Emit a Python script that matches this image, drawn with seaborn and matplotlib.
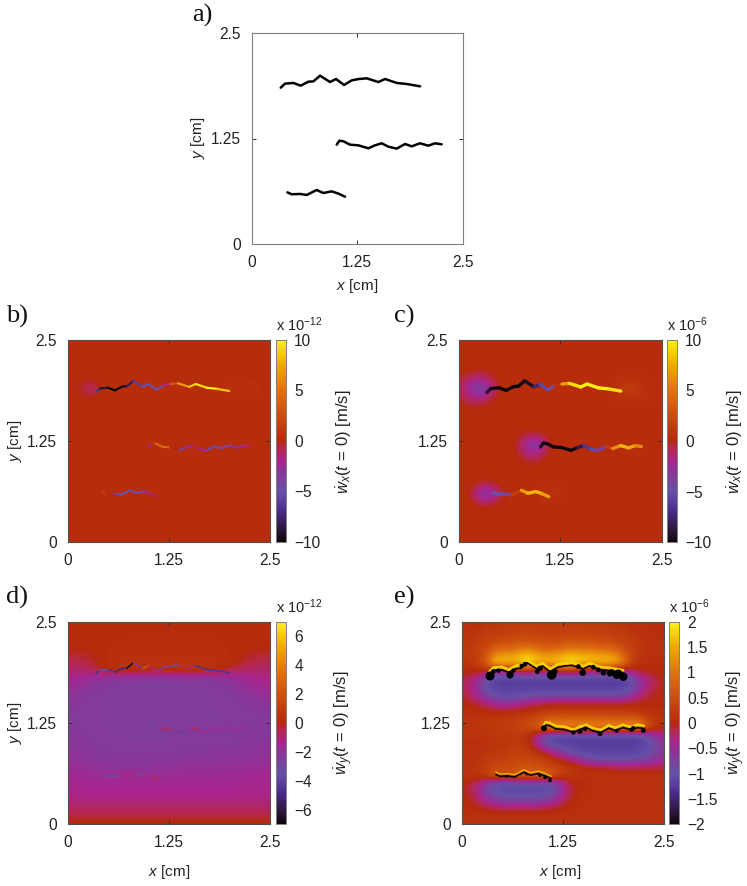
import numpy as np
import seaborn as sns
import matplotlib
matplotlib.use('Agg')
import matplotlib.pyplot as plt
from matplotlib.collections import LineCollection
from matplotlib.colors import LinearSegmentedColormap, Normalize

# Crack paths in cm
top_x = [.344, .395, .494, .581, .671, .731, .81, .928, .999, 1.094, 1.185, 1.27, 1.363, 1.501, 1.58, 1.718, 1.836, 1.995]
top_y = [1.852, 1.9, 1.908, 1.876, 1.923, 1.927, 1.994, 1.919, 1.955, 1.884, 1.939, 1.955, 1.963, 1.919, 1.955, 1.908, 1.896, 1.868]
mid_x = [1.007, 1.039, 1.086, 1.165, 1.264, 1.382, 1.461, 1.54, 1.619, 1.718, 1.817, 1.896, 1.994, 2.093, 2.172, 2.251]
mid_y = [1.177, 1.224, 1.217, 1.177, 1.169, 1.134, 1.169, 1.193, 1.153, 1.13, 1.185, 1.157, 1.193, 1.165, 1.193, 1.181]
bot_x = [.423, .474, .573, .652, .77, .849, .948, 1.027, 1.106]
bot_y = [.612, .589, .593, .581, .64, .604, .624, .597, .561]

# Velocity values along each crack, per panel
b_top = [-5, -8, -10, -10, -10, -9, -7, -5, -5, -5, -4, .3, 6, 8, 9, 10, 10, 7]
b_mid = [-2, -1, 3, 5, 4, -4, -4, -1, 0, -4, -5, -4, -4, -2, -3, 0]
b_bot = [1, 2, -2, -5, -5, -4, -4, -1, -1]
c_top = [-8, -10, -10, -10, -10, -10, -10, -9, -6, -5, -4, 5, 9, 10, 10, 10, 10, 9]
c_mid = [-9, -10, -10, -10, -10, -10, -10, -7, -6, -5, -2, 5, 8, 8, 7, 5]
c_bot = [-5, -5, -5, -3, 6, 8, 8, 8, 6]
d_top = [-5, -4, -3, -6, -4, -6, -7, 3, 1, -3, -2, -3, -4, 3, -5, -4, -5, -4]
d_mid = [-1, -4, -4, -1, -.5, -4, -4, -.5, -.5, -3, -.5, -3, -.5, -3, -.5, -3]
d_bot = [-1, -3, -3, -3, .5, -3, -3, -.5, -1]

# Velocity fields, rows from y=2.5 down to y=0
b_field = [[.3] * 26] * 5 + [
    [.3, .2, -.1, 0, .3] + [.3] * 21,
    [.3, -.1, -.6, -1.5, .1] + [.3] * 16 + [.7, .5, .4, .3, .3],
    [.3, .2, -.1, -.1, .3] + [.3] * 21,
] + [[.3] * 26] * 18

c_field = [[.3] * 26] * 4 + [
    [.2, .1, -.3, -.3, .1] + [.3] * 21,
    [-.3, -1.2, -2, -1.8, -.8, .1] + [.3] * 15 + [.7, .6, .4, .3, .3],
    [-.7, -2, -4, -4.5, -2, .1] + [.3] * 14 + [1.2, 1.5, 1, .5, .3, .3],
    [-.3, -1.2, -2, -1.8, -.6, .1] + [.3] * 14 + [.6, .8, .6, .4, .3, .3],
    [.1, -.2, -.4, -.3, .1] + [.3] * 21,
] + [[.3] * 26] * 3 + [
    [.3] * 7 + [.1, -.7, -1.2, -.8, -.1, .3] + [.3] * 13,
    [.3] * 7 + [-.1, -1.8, -4, -3.5, -.2, .3] + [.3] * 13,
    [.3] * 7 + [.1, -1, -2, -1.2, -.1, .3] + [.3] * 13,
    [.3] * 8 + [-.1, -.4, -.2, .2] + [.3] * 14,
] + [[.3] * 26] * 2 + [
    [.3, .3, -.1, -.9, -.7, -.1] + [.3] * 20,
    [.3, .1, -1.5, -4, -3.5, -.8, .2] + [.3] * 4 + [.8, .6] + [.3] * 13,
    [.3, .3, -.3, -1.2, -.9, -.1] + [.3] * 20,
] + [[.3] * 26] * 5

# coarser in x because the field is smooth
d_field = [
    [.2, .2, .2, .2, .2, .2, .2, .2, .2, .2, .2],
    [.2, .2, .2, .2, .2, .2, .2, .2, .2, .2, .2],
    [.1, .1, .2, .2, .2, .2, .2, .2, .2, .1, .1],
    [.1, .1, .2, .3, .3, .3, .3, .3, .2, .1, .1],
    [-.2, -.2, .3, .3, .3, .3, .3, .3, .3, -.2, -.2],
    [-.5, -.4, .3, .4, .4, .4, .4, .4, .3, -.4, -.5],
    [-.9, -.9, .5, .8, .3, .5, .8, .5, -.3, -.9, -.9],
    [-1.3, -1.7, -2.3, -2.4, -2.4, -2.4, -2.4, -2.4, -2.1, -1.4, -1.2],
    [-1.6, -2.1, -2.4, -2.4, -2.4, -2.4, -2.4, -2.4, -2.2, -1.7, -1.5],
    [-1.9, -2.3, -2.4, -2.5, -2.5, -2.5, -2.5, -2.4, -2.4, -2, -1.8],
    [-2.1, -2.4, -2.4, -2.5, -2.5, -2.5, -2.5, -2.4, -2.4, -2.2, -2],
    [-2.2, -2.4, -2.4, -2.5, -2.5, -2.5, -2.5, -2.4, -2.4, -2.3, -2.2],
    [-2.3, -2.4, -2.4, -2.5, -2.5, -2.5, -2.5, -2.5, -2.4, -2.4, -2.3],
    [-2.3, -2.4, -2.4, -2.5, -2.4, -2.3, -2.3, -2.3, -2.3, -2.3, -2.2],
    [-2.2, -2.3, -2.4, -2.4, -2.5, -2.4, -2.4, -2.4, -2.4, -2.3, -2.2],
    [-2.1, -2.3, -2.4, -2.4, -2.4, -2.4, -2.4, -2.4, -2.3, -2.2, -2.1],
    [-2, -2.2, -2.3, -2.3, -2.3, -2.3, -2.3, -2.2, -2.2, -2.1, -2],
    [-1.9, -2.1, -2.2, -2.2, -2.2, -2.2, -2.1, -2.1, -2, -2, -1.9],
    [-1.7, -1.9, -2.1, -2.1, -2.1, -2, -1.9, -1.9, -1.9, -1.8, -1.7],
    [-1.5, -1.7, -1.8, -1.4, -1.8, -1.7, -1.7, -1.7, -1.6, -1.6, -1.5],
    [-1.4, -1.5, -1.5, -1.5, -1.5, -1.5, -1.5, -1.5, -1.5, -1.4, -1.4],
    [-1.3, -1.4, -1.4, -1.4, -1.4, -1.4, -1.4, -1.4, -1.4, -1.3, -1.3],
    [-1.2, -1.2, -1.2, -1.2, -1.2, -1.2, -1.2, -1.2, -1.2, -1.2, -1.2],
    [-.8, -.8, -.8, -.8, -.8, -.8, -.8, -.8, -.8, -.8, -.8],
    [-.3, -.3, -.3, -.3, -.3, -.3, -.3, -.3, -.3, -.3, -.3],
    [.1, .1, .1, .1, .1, .1, .1, .1, .1, .1, .1],
]

e_field = [
    [.1, .1, .1, .15, .15, .15, .2, .2, .2, .2, .2, .2, .2, .2, .2, .2, .2, .2, .15, .15, .15, .1, .1, .1, .05, .05],
    [.1, .1, .15, .2, .2, .25, .3, .3, .3, .3, .3, .3, .3, .3, .3, .3, .3, .3, .25, .2, .2, .15, .1, .1, .05, .05],
    [.15, .15, .2, .3, .35, .35, .4, .45, .45, .45, .4, .4, .4, .45, .45, .45, .4, .4, .4, .3, .3, .2, .15, .1, .1, .1],
    [.15, .2, .3, .4, .6, .7, .7, .8, .9, .8, .7, .7, .7, .8, .8, .8, .8, .7, .7, .6, .4, .3, .2, .1, .1, .1],
    [.2, .2, .3, .6, 1.2, 1.3, 1.3, 1.5, 1.7, 1.5, 1.3, 1.3, 1.4, 1.6, 1.6, 1.5, 1.5, 1.4, 1.3, 1.2, .7, .3, .15, .1, .1, .1],
    [.15, .2, .3, .7, 1.7, 1.8, 1.7, 1.8, 2, 1.8, 1.7, 1.7, 1.8, 1.9, 1.9, 1.8, 1.7, 1.7, 1.8, 1.6, 1.1, .3, .1, .05, .05, .05],
    [.05, .05, .1, .2, -.3, -.2, -.2, -.1, .3, -.1, -.1, -.2, .2, .3, .2, -.2, -.2, -.2, -.3, -.4, -.4, -.1, 0, .05, .05, .05],
    [-.1, -.2, -.5, -1, -1.25, -1.25, -1.25, -1.25, -1.25, -1.25, -1.25, -1.25, -1.25, -1.25, -1.25, -1.25, -1.25, -1.25, -1.25, -1.25, -1.25, -1, -.5, -.3, -.1, 0],
    [-.2, -.3, -.6, -1, -1.15, -1.2, -1.2, -1.2, -1.2, -1.2, -1.2, -1.2, -1.2, -1.2, -1.2, -1.2, -1.2, -1.2, -1.2, -1.2, -1.2, -1, -.6, -.25, -.1, 0],
    [-.05, -.2, -.5, -.9, -1, -1.1, -1.1, -1.1, -1.1, -1, -1, -1, -1, -1, -1, -1, -1, -1, -1, -1, -.9, -.6, -.3, -.1, 0, 0],
    [0, -.05, -.1, -.3, -.5, -.6, -.6, -.5, -.35, -.25, -.15, -.1, -.1, -.1, -.1, -.1, -.1, -.1, -.1, -.1, -.1, 0, 0, 0, 0, 0],
    [.1, .05, .05, .05, 0, 0, 0, .05, .1, .15, .2, .25, .25, .25, .25, .25, .25, .25, .25, .25, .2, .15, .1, .1, .05, .05],
    [.15, .15, .15, .2, .2, .2, .25, .3, .35, .45, .6, .7, .8, .75, .7, .75, .7, .7, .7, .65, .7, .75, .6, .3, .2, .15],
    [.15, .15, .15, .2, .2, .25, .3, .4, .5, .6, 1.1, 1.5, 1.3, 1.4, 1.4, 1.5, 1.4, 1.4, 1.5, 1.4, 1.4, 1.5, 1.4, .5, .15, .1],
    [.15, .15, .15, .15, .15, .2, .2, .2, .1, -.2, -.8, -1.2, -1.25, -1.25, -1.25, -1.25, -1.25, -1.25, -1.25, -1.25, -1.25, -1.25, -1.2, -.8, -.5, -.4],
    [.1, .1, .1, .1, .15, .15, .2, .2, .1, -.3, -.9, -1.1, -1.15, -1.2, -1.2, -1.2, -1.2, -1.2, -1.2, -1.2, -1.2, -1.2, -1.2, -1.1, -.8, -.5],
    [.1, .1, .1, .15, .2, .2, .3, .3, .3, .15, -.1, -.4, -.8, -1, -1.1, -1.2, -1.2, -1.2, -1.2, -1.2, -1.2, -1.2, -1.1, -1, -.8, -.6],
    [.1, .1, .15, .2, .25, .3, .35, .4, .4, .35, .3, .2, .05, -.2, -.4, -.7, -.9, -1, -1, -1, -1, -1, -.9, -.8, -.6, -.5],
    [.1, .15, .2, .3, .4, .5, .5, .55, .6, .55, .5, .4, .3, .25, .2, .1, .05, 0, 0, -.1, -.1, -.1, -.1, -.1, -.1, -.1],
    [.1, .15, .2, .3, .8, .5, .6, .8, .9, .9, .9, .8, .4, .2, .15, .1, .1, .1, .1, .1, .1, .1, .1, .1, .1, .1],
    [0, -.1, -.3, -.7, -1.1, -1.1, -1.1, -1.1, -1.1, -1.1, -1.1, -1.1, -.7, -.2, 0, .05, .1, .1, .1, .1, .1, .1, .1, .1, .1, .1],
    [0, -.1, -.4, -.8, -1, -1.1, -1.1, -1.1, -1.1, -1.1, -1.1, -1, -.7, -.2, 0, .05, .1, .1, .1, .1, .1, .1, .1, .1, .1, .1],
    [.05, 0, -.2, -.5, -.7, -.8, -.9, -.9, -.9, -.9, -.8, -.7, -.4, -.1, .05, .1, .1, .1, .1, .1, .1, .1, .1, .1, .1, .1],
    [.1, .05, 0, -.05, -.1, -.15, -.15, -.15, -.15, -.15, -.1, -.05, 0, .05, .1, .1, .1, .1, .1, .1, .1, .1, .1, .1, .1, .1],
    [.1] * 26,
    [.1] * 26,
]

# Black blobs along the cracks in panel e
blob_x = [.35, .39, .453, .597, .638, .741, .782, .968, .935, 1.112, 1.153, 1.442, 1.495, 1.627, 1.689, 1.751, 1.833, 1.915, 1.998, 1.854, 1.936,
          1.017, 1.38, 1.462, 1.524, 1.709, 1.915, 2.1, 2.12, 2.244,
          .556, .803, .968, 1.03, 1.09]
blob_y = [1.832, 1.886, 1.898, 1.845, 1.898, 1.956, 1.977, 1.927, 1.886, 1.845, 1.886, 1.948, 1.873, 1.94, 1.907, 1.873, 1.865, 1.845, 1.823, 1.886, 1.865,
          1.186, 1.133, 1.145, 1.178, 1.116, 1.153, 1.166, 1.186, 1.157,
          .589, .618, .601, .577, .54]
blob_s = [42, 12, 10, 26, 10, 10, 12, 14, 12, 46, 14, 12, 22, 12, 12, 16, 22, 34, 36, 14, 30,
          18, 10, 12, 10, 12, 8, 10, 10, 12,
          4, 4, 6, 7, 7]

ticks = [0, 1.25, 2.5]
tick_labels = ['0', '1.25', '2.5']

sns.set_theme(style='white')
plt.rcParams['font.family'] = ['Liberation Sans', 'DejaVu Sans']
plt.rcParams['mathtext.fontset'] = 'custom'
plt.rcParams['mathtext.rm'] = 'Liberation Sans'
plt.rcParams['mathtext.it'] = 'Liberation Sans:italic'
plt.rcParams['mathtext.bf'] = 'Liberation Sans:bold'

W, H = 747, 886
FS = 11.2
cmap = LinearSegmentedColormap.from_list('crack', [
    (0, '#100810'), (.05, '#2a1535'), (.15, '#4a2a88'), (.2, '#5a40a0'), (.25, '#6650a8'), (.3, '#7a449c'),
    (.34, '#86389a'), (.4, '#a8258f'), (.47, '#b52848'), (.5, '#b52a0c'), (.75, '#e07010'), (.88, '#f0a808'),
    (1, '#fbf010')], N=128)

fig = plt.figure(figsize=(W / 100, H / 100), dpi=100)


def box(left, right, top, bottom):
    return [left / W, 1 - bottom / H, (right - left) / W, (bottom - top) / H]


def style_axes(ax):
    ax.set_xlim(0, 2.5)
    ax.set_ylim(0, 2.5)
    ax.set_xticks(ticks, tick_labels)
    ax.set_yticks(ticks, tick_labels)
    ax.tick_params(direction='in', length=3, width=.7, top=True, right=True, bottom=True, left=True,
                   color='#303030', labelsize=FS, labelcolor='#222222', pad=8)
    ax.set_xlabel('')
    ax.set_ylabel('')
    for s in ax.spines.values():
        s.set_visible(True)
        s.set_linewidth(.8)
        s.set_color('#505050')


def draw_crack(ax, xs, ys, vals, norm, lw):
    pts = np.column_stack([xs, ys])
    segs = np.stack([pts[:-1], pts[1:]], axis=1)
    v = np.asarray(vals, dtype=float)
    lc = LineCollection(segs, cmap=cmap, norm=norm, linewidths=lw, capstyle='round', zorder=3)
    lc.set_array((v[:-1] + v[1:]) / 2)
    ax.add_collection(lc)


def field_panel(pos, cpos, field, vmax, cticks, clabels, power, comp, label_pos, cracks, lw):
    ax = fig.add_axes(box(*pos))
    data = np.array(field, dtype=float)
    dx = 2.5 / (data.shape[1] - 1)
    dy = 2.5 / (data.shape[0] - 1)
    norm = Normalize(-vmax, vmax)
    im = ax.imshow(data, cmap=cmap, norm=norm, origin='upper', aspect='auto', interpolation='bicubic',
                   interpolation_stage='data', extent=(-dx / 2, 2.5 + dx / 2, -dy / 2, 2.5 + dy / 2))
    for xs, ys, vals in cracks:
        draw_crack(ax, xs, ys, vals, norm, lw)
    style_axes(ax)
    cax = fig.add_axes(box(*cpos))
    cb = fig.colorbar(im, cax=cax, ticks=cticks)
    cb.ax.set_yticklabels(clabels)
    cb.ax.tick_params(direction='in', length=3, width=.7, left=True, right=True, color='#303030',
                      labelsize=FS, labelcolor='#222222', pad=6)
    cb.outline.set_linewidth(.7)
    cb.outline.set_edgecolor('#808080')
    fig.text(cpos[0] / W, 1 - (cpos[2] - 6) / H, 'x 10$^{%s}$' % power, fontsize=10.5, color='#222222',
             ha='left', va='bottom')
    fig.text(label_pos[0] / W, 1 - label_pos[1] / H, r'$\dot{w}_{%s}(t\,=\,0)$ [m/s]' % comp, rotation=90,
             fontsize=12, color='#222222', ha='center', va='center')
    return ax


# a) crack positions
ax_a = fig.add_axes(box(251.7, 462.7, 33, 244))
for xs, ys in [(top_x, top_y), (mid_x, mid_y), (bot_x, bot_y)]:
    sns.lineplot(x=xs, y=ys, sort=False, estimator=None, color='black', linewidth=1.8, ax=ax_a)
style_axes(ax_a)
for s in ax_a.spines.values():
    s.set_color('#808080')

# b) c) horizontal rates
ax_b = field_panel((68, 270, 340, 541.7), (276, 286, 340, 541.7), b_field, 10, [-10, -5, 0, 5, 10],
                   ['\u221210', '\u22125', '0', '5', '10'], '-12', 'x', (344, 442),
                   [(top_x, top_y, b_top), (mid_x, mid_y, b_mid), (bot_x, bot_y, b_bot)], 1.6)
ax_c = field_panel((459, 661.7, 340, 542), (667, 677, 340, 542), c_field, 10, [-10, -5, 0, 5, 10],
                   ['\u221210', '\u22125', '0', '5', '10'], '-6', 'x', (735, 442),
                   [(top_x, top_y, c_top), (mid_x, mid_y, c_mid), (bot_x, bot_y, c_bot)], 2.4)

# d) e) vertical rates
ax_d = field_panel((68, 270, 621.7, 824), (276, 286, 621.7, 824), d_field, 7, [-6, -4, -2, 0, 2, 4, 6],
                   ['\u22126', '\u22124', '\u22122', '0', '2', '4', '6'], '-12', 'y', (344, 723),
                   [(top_x, top_y, d_top), (mid_x, mid_y, d_mid), (bot_x, bot_y, d_bot)], 1.2)
ax_e = field_panel((461.7, 664, 622, 824), (669, 679, 622, 824), e_field, 2,
                   [-2, -1.5, -1, -.5, 0, .5, 1, 1.5, 2],
                   ['\u22122', '\u22121.5', '\u22121', '\u22120.5', '0', '0.5', '1', '1.5', '2'], '-6', 'y', (736, 723),
                   [], 1.2)
# yellow rim just above each crack, black crack on top of it
norm_e = Normalize(-2, 2)
for xs, ys, up, lw, rim in [(top_x, top_y, .035, 2, 1.75), (mid_x, mid_y, .035, 1.8, 1.75), (bot_x, bot_y, .03, .9, 1.6)]:
    draw_crack(ax_e, xs, np.add(ys, up), [rim] * len(xs), norm_e, lw)
    draw_crack(ax_e, xs, ys, [-2] * len(xs), norm_e, 1.2)
sns.scatterplot(x=blob_x, y=blob_y, color='black', size=blob_s, sizes=(min(blob_s), max(blob_s)), linewidth=0,
                ax=ax_e, zorder=4, legend=False)
style_axes(ax_e)

# axis names and panel letters
for x, y in [(198, 138), (15, 441), (15, 723)]:
    fig.text(x / W, 1 - y / H, '$y$ [cm]', rotation=90, fontsize=11, color='#222222', ha='center', va='center')
for x, y in [(357, 286), (169, 872), (560, 872)]:
    fig.text(x / W, 1 - y / H, '$x$ [cm]', fontsize=11, color='#222222', ha='center', va='center')
for t, x, y in [('a)', 202, 15), ('b)', 17, 316), ('c)', 404, 316), ('d)', 17, 597), ('e)', 404, 597)]:
    fig.text(x / W, 1 - y / H, t, family='Liberation Serif', fontsize=19, color='#111111', ha='center', va='center')

plt.savefig('out.png', dpi=100)
